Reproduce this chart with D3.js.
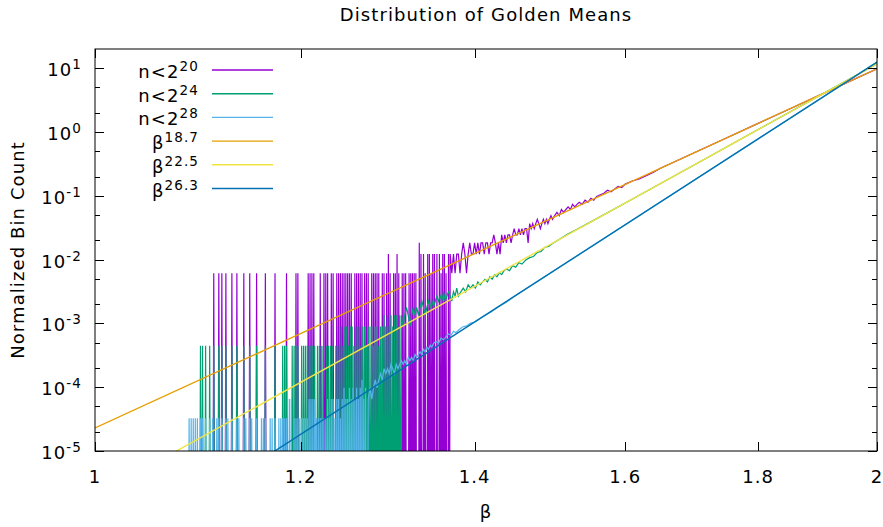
<!DOCTYPE html>
<html>
<head>
<meta charset="utf-8">
<script src="https://cdn.jsdelivr.net/npm/d3@7"></script>
<style>
body { margin: 0; background: #fff; }
text { font-family: "DejaVu Sans", sans-serif; fill: #000; letter-spacing: 1.1px; }
</style>
</head>
<body>
<div class="chart"></div>
<script>
// histogram bin width (in beta)
let binWidth = 0.001;

// normalized value of one count, per histogram
let unitA = 0.0061;    // n<2^20
let unitB = 4.47e-4;   // n<2^24
let unitC = 3.26e-5;   // n<2^28

// sparse part: non-empty bins only [beta, count], bins in between are empty
let sparseA = [[1.111,1],[1.116,1],[1.119,1],[1.123,1],[1.129,1],[1.134,1],[1.141,1],[1.147,1],[1.154,1],[1.163,1],[1.173,1],[1.185,1],[1.195,1],[1.197,1],
  [1.208,1],[1.210,1],[1.212,1],[1.214,1],
  [1.221,1],[1.225,1],[1.227,1],[1.229,1],[1.233,1],[1.235,1],[1.239,1],[1.241,1],[1.243,1],[1.245,1],[1.247,1],[1.249,1],[1.251,1],[1.253,1],[1.255,1],[1.259,1],
  [1.261,1],[1.263,1],[1.265,1],[1.267,1],[1.270,1],[1.272,1],[1.274,1],[1.278,1],[1.280,1],[1.282,1],[1.284,1],[1.286,1],[1.290,1],[1.292,1],[1.295,1],[1.297,2],
  [1.299,1],[1.303,1],[1.305,1],[1.307,2],[1.309,1],[1.313,1],[1.315,1],[1.317,1],[1.321,1],[1.323,1],[1.325,1],[1.327,1],[1.329,1],[1.333,3],[1.335,2],[1.338,2],
  [1.340,1],[1.343,2],[1.345,2],[1.347,1],[1.349,2],[1.351,2],[1.354,2],[1.357,2],[1.359,1],[1.361,2],[1.363,2],[1.365,1],[1.368,2]];

let sparseB = [[1.098,1],[1.100,1],[1.103,1],[1.107,1],[1.111,1],[1.116,1],[1.119,1],[1.123,1],[1.129,1],[1.134,1],[1.141,1],[1.147,1],[1.154,1],[1.163,1],[1.173,1],
  [1.181,1],[1.183,1],[1.185,1],[1.191,1],[1.193,1],[1.195,1],[1.197,1],[1.201,1],[1.203,1],[1.205,1],[1.207,1],[1.209,1],[1.211,1],[1.213,1],[1.215,1],
  [1.218,1],[1.220,1],[1.222,1],[1.224,1],[1.228,1],[1.230,1],[1.232,1],[1.234,1],[1.238,1],[1.240,1],[1.242,1],
  [1.244,2],[1.246,1],[1.248,2],[1.250,2],[1.252,1],[1.254,2],[1.256,2],[1.258,1],[1.260,2],[1.262,2],[1.264,2],[1.266,1],[1.268,2],[1.270,2],[1.272,1],[1.274,2],
  [1.276,2],[1.278,2],[1.280,1],[1.282,2],[1.284,2],[1.286,1],[1.288,2],[1.290,2],[1.292,3],[1.294,2],[1.296,3],[1.298,2],[1.300,3],[1.302,2],[1.304,3],[1.306,3],
  [1.308,2],[1.310,3]];

let sparseC = [[1.087,1],[1.089,1],[1.091,1],[1.093,1],[1.095,1],[1.098,1],[1.100,1],[1.103,1],[1.107,1],[1.110,1],[1.114,1],[1.116,1],[1.119,1],[1.123,1],[1.125,1],
  [1.129,1],[1.134,1],[1.136,1],[1.141,1],[1.143,1],[1.147,1],[1.149,1],[1.154,1],[1.159,1],[1.161,1],[1.163,1],[1.168,1],[1.170,1],[1.173,1],[1.177,1],[1.179,1],
  [1.181,1],[1.183,1],[1.185,1],[1.188,2],[1.190,2],[1.193,1],[1.195,1],[1.197,1],[1.199,1],[1.201,1],[1.203,1],[1.205,1],[1.207,1],[1.209,2],[1.211,2],[1.213,2],
  [1.215,2],[1.217,1],[1.219,1],[1.221,1],[1.223,1],[1.225,1],[1.227,1],[1.229,2],[1.231,1],[1.233,2],[1.235,2],[1.237,1],[1.239,2],[1.241,2],[1.243,1],[1.245,2],
  [1.247,3],[1.249,2],[1.251,2],[1.253,3],[1.255,2],[1.257,3],[1.259,2],[1.261,3],[1.263,2],[1.265,3],[1.267,4],[1.269,2],[1.271,3]];

// dense part: [beta, count] where no bin is empty any more
let denseA = [[1.370,2],[1.372,1],[1.374,2],[1.376,1],[1.378,2],[1.380,2],[1.382,1],[1.384,2],[1.386,3],[1.388,2],[1.390,1],[1.392,2],[1.394,3],[1.396,2],[1.398,2],
  [1.400,3],[1.402,2],[1.404,3],[1.406,2],[1.408,3],[1.410,3],[1.412,2],[1.414,3],[1.416,3],[1.418,2],[1.420,3],[1.422,3],[1.424,4],[1.426,3],[1.428,2],[1.430,3],
  [1.432,2],[1.434,4],[1.436,3],[1.438,4],[1.440,3],[1.442,4],[1.444,4],[1.446,3],[1.448,4],[1.450,5],[1.452,4],[1.454,4],[1.456,5],[1.458,4],[1.460,5],[1.462,4],
  [1.464,5],[1.466,5],[1.468,3],[1.470,6],[1.472,5],[1.474,6],[1.476,5],[1.478,6],[1.480,7],[1.482,6],[1.484,5],[1.486,6],[1.488,7],[1.490,6],[1.492,7],[1.494,6],
  [1.496,7],[1.498,8],[1.500,7],[1.503,8],[1.506,9],[1.509,8],[1.512,10],[1.515,9],[1.518,10],[1.521,11],[1.524,10],[1.527,12],[1.530,11],[1.533,12],[1.536,13],
  [1.540,12],[1.544,14],[1.548,13],[1.552,15],[1.556,14],[1.560,16],[1.565,17],[1.570,18],[1.575,20],[1.580,19],[1.585,21],[1.590,23],[1.595,22],[1.600,25],
  [1.610,28],[1.620,30],[1.630,34],[1.640,38],[1.650,44],[1.700,77],[1.750,132],[1.800,224],[1.850,372],[1.900,615],[1.950,1000],[2.000,1606]];

let denseB = [[1.312,3],[1.314,2],[1.316,3],[1.318,4],[1.320,3],[1.322,2],[1.324,3],[1.326,4],[1.328,3],[1.330,4],[1.332,3],[1.334,4],[1.336,5],[1.338,4],[1.340,3],
  [1.342,4],[1.344,5],[1.346,4],[1.348,5],[1.350,4],[1.352,5],[1.354,6],[1.356,5],[1.358,6],[1.360,5],[1.362,7],[1.364,5],[1.366,6],[1.368,7],[1.370,6],[1.372,5],
  [1.374,7],[1.376,6],[1.378,8],[1.380,6],[1.383,7],[1.386,8],[1.389,7],[1.392,9],[1.395,8],[1.398,9],[1.401,8],[1.404,10],[1.407,9],[1.410,10],[1.413,11],[1.416,10],
  [1.419,12],[1.422,11],[1.425,13],[1.428,12],[1.431,14],[1.434,13],[1.437,15],[1.440,16],[1.444,15],[1.448,18],[1.452,17],[1.456,20],[1.460,19],[1.465,22],
  [1.470,24],[1.475,25],[1.480,29],[1.485,30],[1.490,35],[1.495,36],[1.500,40],[1.510,47],[1.520,56],[1.530,64],[1.540,74],[1.550,85],[1.600,173],[1.700,675],
  [1.800,2443],[1.900,8245],[2.000,26150]];

let denseC = [[1.274,2],[1.276,3],[1.278,2],[1.280,3],[1.282,4],[1.284,3],[1.286,4],[1.288,5],[1.290,4],[1.292,6],[1.294,5],[1.296,6],[1.298,5],[1.300,7],[1.302,6],
  [1.304,5],[1.306,7],[1.308,6],[1.310,7],[1.312,8],[1.314,7],[1.316,8],[1.318,7],[1.320,9],[1.322,8],[1.324,9],[1.326,8],[1.328,10],[1.330,9],[1.332,10],[1.334,11],
  [1.336,10],[1.338,12],[1.340,11],[1.342,13],[1.344,12],[1.346,14],[1.348,13],[1.350,15],[1.353,16],[1.356,15],[1.359,18],[1.362,17],[1.365,19],[1.368,21],
  [1.371,20],[1.374,23],[1.377,22],[1.380,24],[1.385,27],[1.390,28],[1.395,31],[1.400,32],[1.410,39],[1.420,46],[1.430,56],[1.440,66],[1.450,81],[1.500,198],
  [1.600,1082],[1.700,5330],[1.800,23970],[1.900,99330],[2.000,383000]];

// power law fits: coefficient * beta^exponent
let fitExponents = [18.7, 22.5, 26.3];
let fitCoefficients = [2.3e-5, 1.97e-6, 1.51e-7];

let histNames = ["20", "24", "28"];
let histColors = ["#9400d3", "#009e73", "#56b4e9"];
let fitColors = ["#e69f00", "#f0e442", "#0072b2"];

let xTicks = [1, 1.2, 1.4, 1.6, 1.8, 2];
let xTickLabels = ["1", "1.2", "1.4", "1.6", "1.8", "2"];
let yExponents = [-5, -4, -3, -2, -1, 0, 1];
let yMinorMult = [2, 5];

let width = 883, height = 527;
let plot = {left: 95, right: 877, top: 49, bottom: 451};

const svg = d3.select(".chart").append("svg")
  .attr("width", width).attr("height", height);

let x = d3.scaleLog().domain([1, 2]).range([plot.left, plot.right]);
let y = d3.scaleLog().domain([1e-5, 20]).range([plot.bottom, plot.top]);

svg.append("clipPath").attr("id", "clip")
  .append("rect")
  .attr("x", plot.left).attr("y", plot.top)
  .attr("width", plot.right - plot.left).attr("height", plot.bottom - plot.top);

// put empty bins back between the listed ones, then join the dense part
function histLine(sparse, dense, unit) {
  let pts = [], last = null;
  sparse.concat(dense.slice(0, 1)).forEach(function (d) {
    if (last === null) pts.push([d[0] - binWidth, 0]);
    else if (d[0] - last > binWidth * 1.5) {
      pts.push([last + binWidth, 0]);
      if (d[0] - last > binWidth * 2.5) pts.push([d[0] - binWidth, 0]);
    }
    pts.push(d);
    last = d[0];
  });
  pts.pop();
  return pts.concat(dense).map(d => [d[0], d[1] * unit]);
}

let line = d3.line()
  .x(d => x(d[0]))
  .y(d => d[1] > 0 ? y(d[1]) : y(1e-8));

let hists = [
  histLine(sparseA, denseA, unitA),
  histLine(sparseB, denseB, unitB),
  histLine(sparseC, denseC, unitC)
];

let plotArea = svg.append("g").attr("clip-path", "url(#clip)");

hists.forEach(function (h, i) {
  plotArea.append("path")
    .datum(h)
    .attr("d", line)
    .attr("fill", "none")
    .attr("stroke", histColors[i])
    .attr("stroke-width", 1.2);
});

fitExponents.forEach(function (k, i) {
  let a = fitCoefficients[i];
  plotArea.append("path")
    .datum([[1, a], [2, a * Math.pow(2, k)]])
    .attr("d", line)
    .attr("fill", "none")
    .attr("stroke", fitColors[i])
    .attr("stroke-width", 1.4);
});

// border
svg.append("rect")
  .attr("x", plot.left).attr("y", plot.top)
  .attr("width", plot.right - plot.left).attr("height", plot.bottom - plot.top)
  .attr("fill", "none").attr("stroke", "#000").attr("stroke-width", 1);

// ticks, gnuplot style (inside, mirrored)
let yMajor = yExponents.map(e => Math.pow(10, e));
let yMinor = [];
yExponents.forEach(e => yMinorMult.forEach(m => {
  let v = m * Math.pow(10, e);
  if (v < 20) yMinor.push(v);
}));

let ticks = svg.append("g").attr("stroke", "#000").attr("stroke-width", 1);
[[yMajor, 9], [yMinor, 5]].forEach(function (t) {
  t[0].forEach(function (v) {
    let yy = Math.round(y(v)) + 0.5;
    ticks.append("line").attr("x1", plot.left).attr("x2", plot.left + t[1]).attr("y1", yy).attr("y2", yy);
    ticks.append("line").attr("x1", plot.right).attr("x2", plot.right - t[1]).attr("y1", yy).attr("y2", yy);
  });
});
xTicks.forEach(function (v) {
  let xx = Math.round(x(v)) + 0.5;
  ticks.append("line").attr("x1", xx).attr("x2", xx).attr("y1", plot.bottom).attr("y2", plot.bottom - 9);
  ticks.append("line").attr("x1", xx).attr("x2", xx).attr("y1", plot.top).attr("y2", plot.top + 9);
});

// tick labels
xTicks.forEach(function (v, i) {
  svg.append("text")
    .attr("x", x(v)).attr("y", 483)
    .attr("text-anchor", "middle")
    .style("font-size", "18px")
    .text(xTickLabels[i]);
});

yExponents.forEach(function (e) {
  let t = svg.append("text")
    .attr("x", 82).attr("y", y(Math.pow(10, e)) + 8)
    .attr("text-anchor", "end")
    .style("font-size", "18px");
  t.append("tspan").text("10");
  t.append("tspan").attr("dy", -7).style("font-size", "13.5px").text(e);
});

// titles
svg.append("text")
  .attr("x", (plot.left + plot.right) / 2).attr("y", 21)
  .attr("text-anchor", "middle")
  .style("font-size", "18px")
  .text("Distribution of Golden Means");

svg.append("text")
  .attr("x", (plot.left + plot.right) / 2).attr("y", 518)
  .attr("text-anchor", "middle")
  .style("font-size", "18px")
  .text("β");

svg.append("text")
  .attr("transform", "translate(24," + ((plot.top + plot.bottom) / 2) + ") rotate(-90)")
  .attr("text-anchor", "middle")
  .style("font-size", "18px")
  .text("Normalized Bin Count");

// key
let keyItems = histNames.map((n, i) => ({base: "n<2", sup: n, color: histColors[i]}))
  .concat(fitExponents.map((k, i) => ({base: "β", sup: String(k), color: fitColors[i]})));

keyItems.forEach(function (d, i) {
  let yy = 70 + i * 23.7;
  svg.append("line")
    .attr("x1", 212).attr("x2", 273)
    .attr("y1", yy).attr("y2", yy)
    .attr("stroke", d.color).attr("stroke-width", 1.4);
  let t = svg.append("text")
    .attr("x", 199).attr("y", yy + 8)
    .attr("text-anchor", "end")
    .style("font-size", "18px");
  t.append("tspan").text(d.base);
  t.append("tspan").attr("dy", -7).style("font-size", "13.5px").text(d.sup);
});
</script>
</body>
</html>
